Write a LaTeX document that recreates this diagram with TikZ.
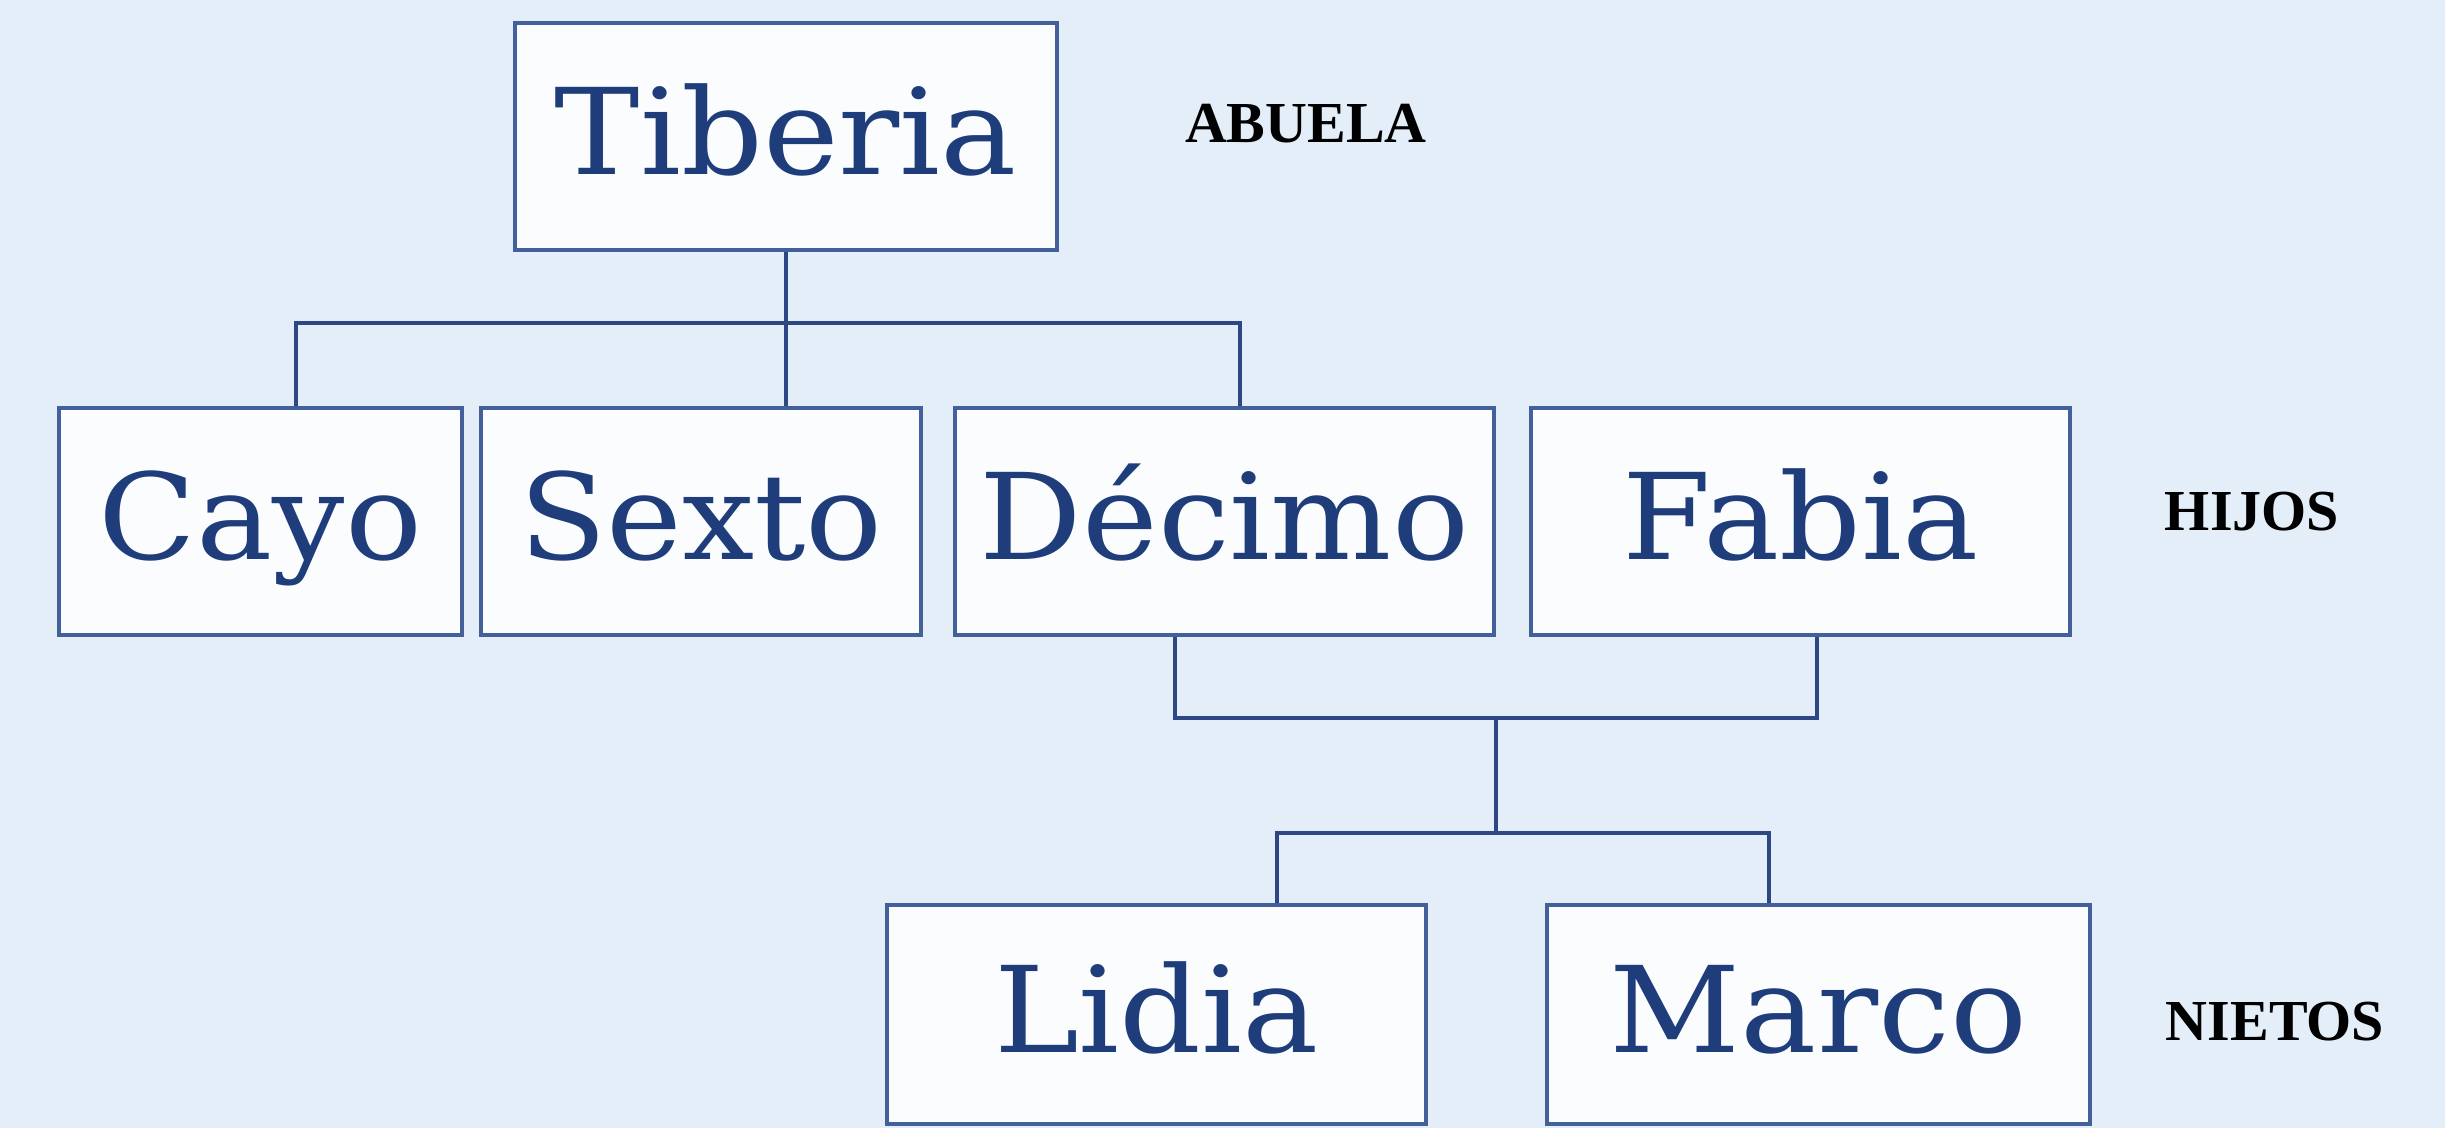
\documentclass[tikz,border=0pt]{standalone}
\usepackage{fontspec}
\setmainfont{Liberation Serif}
\newfontfamily\namefont[FakeStretch=1.07]{DejaVu Serif}
\usetikzlibrary{calc}
\definecolor{bgblue}{HTML}{E4EEF9}
\definecolor{boxfill}{HTML}{FBFCFE}
\definecolor{boxline}{HTML}{44609A}
\definecolor{conline}{HTML}{2E4684}
\definecolor{nametext}{HTML}{1E3D7A}
\tikzset{
  person/.style={draw=boxline, fill=boxfill, line width=1.2pt, rectangle,
    inner sep=0pt, text=nametext,
    font=\namefont\fontsize{34pt}{40pt}\selectfont,
    text height=25pt, text depth=3.4pt},
  levellabel/.style={inner sep=0pt, text=black,
    font=\bfseries\fontsize{16.5pt}{20pt}\selectfont},
  conn/.style={draw=conline, line width=1pt}
}
\begin{document}
\begin{tikzpicture}[x=0.01cm, y=-0.01cm]
\fill[bgblue] (0,0) rectangle (2445,1128);
\useasboundingbox (0,0) rectangle (2445,1128);

% people
\node[person, minimum width=542*0.01cm, minimum height=227*0.01cm] (tib) at (786,136.5) {Tiberia};
\node[person, minimum width=403*0.01cm, minimum height=227*0.01cm] (cay) at (260.5,521.5) {Cayo};
\node[person, minimum width=440*0.01cm, minimum height=227*0.01cm] (sex) at (701,521.5) {Sexto};
\node[person, minimum width=539*0.01cm, minimum height=227*0.01cm] (dec) at (1224.5,521.5) {Décimo};
\node[person, minimum width=539*0.01cm, minimum height=227*0.01cm] (fab) at (1800.5,521.5) {Fabia};
\node[person, minimum width=539*0.01cm, minimum height=219*0.01cm] (lid) at (1156.5,1014.5) {Lidia};
\node[person, minimum width=543*0.01cm, minimum height=219*0.01cm] (mar) at (1818.5,1014.5) {Marco};

% level labels
\node[levellabel] (abuela) at (1306,124) {ABUELA};
\node[levellabel] (hijos) at (2252,512) {HIJOS};
\node[levellabel] (nietos) at (2275,1022) {NIETOS};

% junction coordinates
\coordinate (barT) at (786,323);
\coordinate (cayTop) at (296,408);
\coordinate (decTop) at (1240,408);
\coordinate (decBot) at (1175,634);
\coordinate (fabBot) at (1817,634);
\coordinate (barM) at (1496,718);
\coordinate (barN) at (1496,833);
\coordinate (lidTop) at (1277,905);
\coordinate (marTop) at (1769,905);

% connectors
\draw[conn] (tib.south) -- (sex.north -| tib.south);
\draw[conn] (cay.north -| cayTop) |- (barT) -| (dec.north -| decTop);
\draw[conn] (dec.south -| decBot) |- (barM) -| (fab.south -| fabBot);
\draw[conn] (barM) -- (barN);
\draw[conn] (lid.north -| lidTop) |- (barN) -| (mar.north -| marTop);
\end{tikzpicture}
\end{document}
